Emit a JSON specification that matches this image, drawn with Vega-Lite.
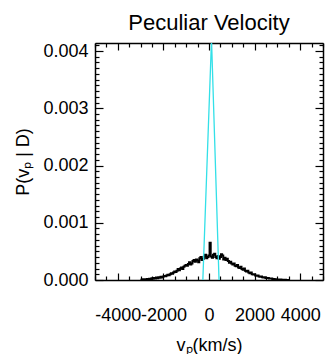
{
  "$schema": "https://vega.github.io/schema/vega-lite/v6.json",
  "width": 228,
  "height": 237,
  "autosize": {"type": "none"},
  "padding": {"left": 95, "top": 43, "right": 3, "bottom": 74},
  "title": {"text": "Peculiar Velocity", "font": "Liberation Sans", "fontSize": 22, "fontWeight": "normal", "color": "black", "anchor": "middle", "offset": 1},
  "config": {
    "view": {"stroke": null},
    "axis": {"labelFont": "Liberation Sans", "titleFont": "Liberation Sans", "labelColor": "black", "titleColor": "black", "domainColor": "black", "tickColor": "black", "domainWidth": 1.5, "tickWidth": 1.2, "grid": false, "labelFontSize": 18, "titleFontSize": 18, "titleFontWeight": "normal"}
  },
  "datasets": {
    "hist": [
      {"v": -3000, "p": 0.000008}, {"v": -2950, "p": 0.000004}, {"v": -2900, "p": 0.000012}, {"v": -2850, "p": 0.000006},
      {"v": -2800, "p": 0.000015}, {"v": -2750, "p": 0.00001}, {"v": -2700, "p": 0.000018}, {"v": -2650, "p": 0.000012},
      {"v": -2600, "p": 0.000022}, {"v": -2550, "p": 0.000016}, {"v": -2500, "p": 0.00003}, {"v": -2450, "p": 0.000022},
      {"v": -2400, "p": 0.000035}, {"v": -2350, "p": 0.000028}, {"v": -2300, "p": 0.000042}, {"v": -2250, "p": 0.000032},
      {"v": -2200, "p": 0.00005}, {"v": -2150, "p": 0.000038}, {"v": -2100, "p": 0.000058}, {"v": -2050, "p": 0.000045},
      {"v": -2000, "p": 0.00006}, {"v": -1950, "p": 0.00007}, {"v": -1900, "p": 0.000065}, {"v": -1850, "p": 0.00008},
      {"v": -1800, "p": 0.00009}, {"v": -1750, "p": 0.000085}, {"v": -1700, "p": 0.0001}, {"v": -1650, "p": 0.00012},
      {"v": -1600, "p": 0.00011}, {"v": -1550, "p": 0.00013}, {"v": -1500, "p": 0.00015}, {"v": -1450, "p": 0.00014},
      {"v": -1400, "p": 0.00016}, {"v": -1350, "p": 0.00019}, {"v": -1300, "p": 0.00017}, {"v": -1250, "p": 0.0002},
      {"v": -1200, "p": 0.00022}, {"v": -1150, "p": 0.00019}, {"v": -1100, "p": 0.00023}, {"v": -1050, "p": 0.00025},
      {"v": -1000, "p": 0.00026}, {"v": -950, "p": 0.00025}, {"v": -900, "p": 0.00028}, {"v": -850, "p": 0.00031},
      {"v": -800, "p": 0.00027}, {"v": -750, "p": 0.00029}, {"v": -700, "p": 0.00033}, {"v": -650, "p": 0.00035},
      {"v": -600, "p": 0.00032}, {"v": -550, "p": 0.00036}, {"v": -500, "p": 0.00034}, {"v": -450, "p": 0.00031},
      {"v": -400, "p": 0.00038}, {"v": -350, "p": 0.0004}, {"v": -300, "p": 0.00035}, {"v": -250, "p": 0.00037},
      {"v": -200, "p": 0.00041}, {"v": -150, "p": 0.00044}, {"v": -100, "p": 0.00038}, {"v": -50, "p": 0.0004},
      {"v": 0, "p": 0.00043}, {"v": 50, "p": 0.00065}, {"v": 100, "p": 0.00041}, {"v": 150, "p": 0.00039},
      {"v": 200, "p": 0.00044}, {"v": 250, "p": 0.00046}, {"v": 300, "p": 0.0004}, {"v": 350, "p": 0.00038},
      {"v": 400, "p": 0.00042}, {"v": 450, "p": 0.00037}, {"v": 500, "p": 0.0004}, {"v": 550, "p": 0.00045},
      {"v": 600, "p": 0.00043}, {"v": 650, "p": 0.00036}, {"v": 700, "p": 0.00039}, {"v": 750, "p": 0.00035},
      {"v": 800, "p": 0.00037}, {"v": 850, "p": 0.00033}, {"v": 900, "p": 0.0003}, {"v": 950, "p": 0.00032},
      {"v": 1000, "p": 0.00029}, {"v": 1050, "p": 0.00027}, {"v": 1100, "p": 0.00029}, {"v": 1150, "p": 0.00025},
      {"v": 1200, "p": 0.00024}, {"v": 1250, "p": 0.00026}, {"v": 1300, "p": 0.00022}, {"v": 1350, "p": 0.00021},
      {"v": 1400, "p": 0.00023}, {"v": 1450, "p": 0.00019}, {"v": 1500, "p": 0.00018}, {"v": 1550, "p": 0.0002},
      {"v": 1600, "p": 0.00016}, {"v": 1650, "p": 0.00015}, {"v": 1700, "p": 0.00016}, {"v": 1750, "p": 0.00013},
      {"v": 1800, "p": 0.00012}, {"v": 1850, "p": 0.00013}, {"v": 1900, "p": 0.0001}, {"v": 1950, "p": 0.000095},
      {"v": 2000, "p": 0.0001}, {"v": 2050, "p": 0.00008}, {"v": 2100, "p": 0.000075}, {"v": 2150, "p": 0.00008},
      {"v": 2200, "p": 0.00006}, {"v": 2250, "p": 0.000058}, {"v": 2300, "p": 0.000062}, {"v": 2350, "p": 0.000048},
      {"v": 2400, "p": 0.000045}, {"v": 2450, "p": 0.000048}, {"v": 2500, "p": 0.000036}, {"v": 2550, "p": 0.000034},
      {"v": 2600, "p": 0.000036}, {"v": 2650, "p": 0.000026}, {"v": 2700, "p": 0.000025}, {"v": 2750, "p": 0.000026},
      {"v": 2800, "p": 0.000018}, {"v": 2850, "p": 0.000019}, {"v": 2900, "p": 0.000014}, {"v": 2950, "p": 0.000014},
      {"v": 3000, "p": 0.00001}, {"v": 3050, "p": 0.00001}, {"v": 3100, "p": 0.000007}, {"v": 3150, "p": 0.000008},
      {"v": 3200, "p": 0.000005}, {"v": 3250, "p": 0.000005}, {"v": 3300, "p": 0.000003}, {"v": 3350, "p": 0.000003},
      {"v": 3400, "p": 0.000002}, {"v": 3450, "p": 0.000001}, {"v": 3500, "p": 0.0}
    ],
    "model": [
      {"v": -270, "p": 0.0}, {"v": 110, "p": 0.0042}, {"v": 440, "p": 0.0}
    ]
  },
  "resolve": {"axis": {"x": "independent", "y": "independent"}},
  "layer": [
    {
      "data": {"name": "hist"},
      "mark": {"type": "line", "interpolate": "step", "color": "black", "strokeWidth": 2},
      "encoding": {
        "x": {"field": "v", "type": "quantitative", "scale": {"domain": [-5000, 5000], "nice": false},
          "axis": {"orient": "bottom", "title": "vₚ(km/s)", "titlePadding": 9,
            "values": [-5000,-4500,-4000,-3500,-3000,-2500,-2000,-1500,-1000,-500,0,500,1000,1500,2000,2500,3000,3500,4000,4500,5000],
            "labelExpr": "datum.value % 2000 === 0 && abs(datum.value) < 5000 ? '' + datum.value : ''",
            "tickSize": {"condition": {"test": "datum.value % 2000 === 0", "value": -7}, "value": -4},
            "labelFontSize": 18,
            "labelPadding": 33, "labelFlush": false, "labelOverlap": false}},
        "y": {"field": "p", "type": "quantitative", "scale": {"domain": [0, 0.00414], "nice": false, "zero": false},
          "axis": {"orient": "left", "title": "P(vₚ | D)", "titlePadding": 10,
            "values": [0,0.0001,0.0002,0.0003,0.0004,0.0005,0.0006,0.0007,0.0008,0.0009,0.001,0.0011,0.0012,0.0013,0.0014,0.0015,0.0016,0.0017,0.0018,0.0019,0.002,0.0021,0.0022,0.0023,0.0024,0.0025,0.0026,0.0027,0.0028,0.0029,0.003,0.0031,0.0032,0.0033,0.0034,0.0035,0.0036,0.0037,0.0038,0.0039,0.004,0.0041],
            "labelExpr": "abs(datum.value*1000 - round(datum.value*1000)) < 0.000001 ? format(datum.value, '.3f') : ''",
            "tickSize": {"condition": {"test": "abs(datum.value*1000 - round(datum.value*1000)) < 0.000001", "value": -8}, "value": -4},
            "labelPadding": 15, "labelOverlap": false, "labelFlush": false}}
      }
    },
    {
      "data": {"name": "model"},
      "mark": {"type": "line", "color": "#33e0e8", "strokeWidth": 1.3, "clip": true},
      "encoding": {
        "x": {"field": "v", "type": "quantitative",
          "axis": {"orient": "top", "title": null, "labels": false,
            "values": [-5000,-4500,-4000,-3500,-3000,-2500,-2000,-1500,-1000,-500,0,500,1000,1500,2000,2500,3000,3500,4000,4500,5000],
            "tickSize": {"condition": {"test": "datum.value % 2000 === 0", "value": -7}, "value": -4}}},
        "y": {"field": "p", "type": "quantitative",
          "axis": {"orient": "right", "title": null, "labels": false,
            "values": [0,0.0001,0.0002,0.0003,0.0004,0.0005,0.0006,0.0007,0.0008,0.0009,0.001,0.0011,0.0012,0.0013,0.0014,0.0015,0.0016,0.0017,0.0018,0.0019,0.002,0.0021,0.0022,0.0023,0.0024,0.0025,0.0026,0.0027,0.0028,0.0029,0.003,0.0031,0.0032,0.0033,0.0034,0.0035,0.0036,0.0037,0.0038,0.0039,0.004,0.0041],
            "tickSize": {"condition": {"test": "abs(datum.value*1000 - round(datum.value*1000)) < 0.000001", "value": -8}, "value": -4}}}
      }
    }
  ]
}
